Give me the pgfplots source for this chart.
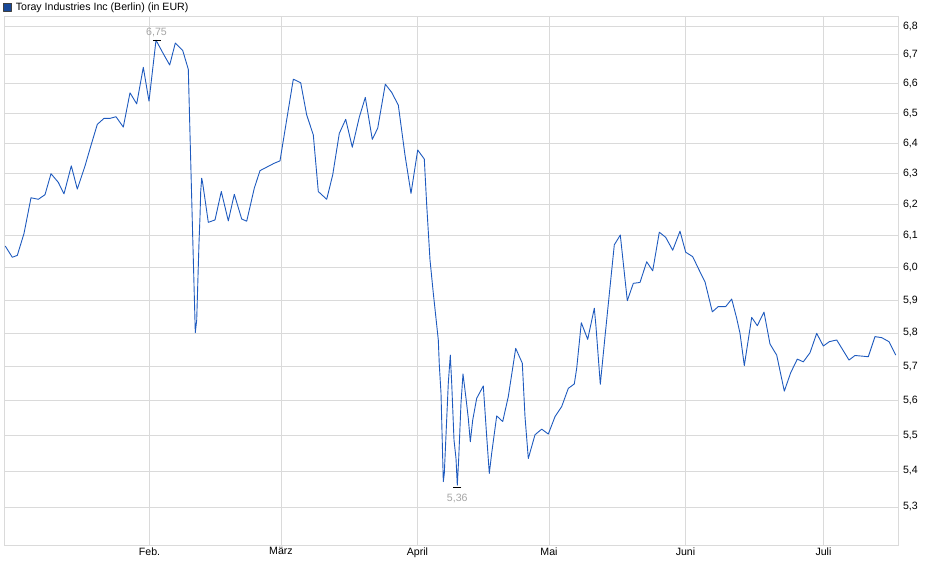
\documentclass[border=0pt]{standalone}
\usepackage{pgfplots}
\pgfplotsset{compat=1.18}
\usepackage{fontspec}
\setmainfont{Liberation Sans}
\definecolor{kurs}{RGB}{30,90,190}
\definecolor{gitter}{RGB}{218,218,218}
\definecolor{marke}{RGB}{165,165,165}
\newcommand{\lab}{\fontsize{10.6}{12}\selectfont}
\begin{document}
\begin{tikzpicture}
\path[use as bounding box] (0pt,0pt) rectangle (940pt,579pt);
\begin{axis}[
  at={(4pt,34pt)}, anchor=south west,
  scale only axis, width=894.5pt, height=529pt,
  xmin=4, xmax=898.5,
  ymode=log, ymin=5.1967, ymax=6.8353,
  axis line style={draw=gitter, line width=0.8pt},
  grid=major, major grid style={draw=gitter, line width=0.8pt},
  tick style={draw=none},
  xtick={149.5,281,417.5,549,685.5,823.5},
  xticklabels={Feb., März, April, Mai, Juni, Juli},
  xticklabel style={font=\lab, yshift=1pt},
  ytick={5.3,5.4,5.5,5.6,5.7,5.8,5.9,6.0,6.1,6.2,6.3,6.4,6.5,6.6,6.7,6.8},
  yticklabels={{5,3},{5,4},{5,5},{5,6},{5,7},{5,8},{5,9},{6,0},{6,1},{6,2},{6,3},{6,4},{6,5},{6,6},{6,7},{6,8}},
  yticklabel pos=right,
  yticklabel style={font=\lab, anchor=west, xshift=1pt},
  legend style={at={(axis description cs:-0.0011,1.0251)}, anchor=north west,
    draw=none, fill=none, inner sep=0pt, font=\lab,
    nodes={inner sep=0pt},
    /tikz/every odd column/.append style={column sep=4pt}},
  legend image code/.code={\draw[fill=kurs!80!black, draw=black!75, line width=0.6pt] (0pt,-4pt) rectangle (8pt,4pt);},
]
\addplot[kurs, line width=0.9pt, line join=round] coordinates {
(5.3,6.067) (12.3,6.032) (17.3,6.038) (24,6.107) (31,6.221) (38.3,6.216) (45,6.231) (51,6.299)
(58.3,6.271) (64,6.234) (71.3,6.325) (77.3,6.249) (85,6.324) (91,6.392) (97.3,6.462) (104,6.482)
(110,6.482) (116,6.488) (123.3,6.453) (130,6.569) (136.7,6.531) (143.3,6.656) (149,6.540) (156,6.750)
(163,6.705) (169.7,6.664) (175.3,6.740) (182.7,6.714) (188.3,6.649) (192.7,6.097) (195.3,5.801) (196.7,5.839)
(199,6.078) (200,6.160) (200.7,6.241) (201.7,6.284) (202.7,6.268) (208.3,6.142) (215,6.150) (221.3,6.241)
(228.3,6.147) (234.3,6.232) (241.7,6.153) (246.7,6.146) (254.3,6.252) (260,6.309) (274,6.333) (280,6.341)
(293.3,6.615) (300.7,6.603) (306.7,6.494) (313.3,6.427) (318.3,6.241) (326.7,6.216) (332.7,6.295) (339.3,6.432)
(345.7,6.479) (352.3,6.386) (359.3,6.486) (365.3,6.553) (372.3,6.412) (377.7,6.449) (385.3,6.598) (391.7,6.570)
(398.3,6.527) (405,6.360) (411,6.235) (417.7,6.377) (424.3,6.347) (426.7,6.198) (430,6.024) (433.3,5.921)
(438.3,5.779) (439.3,5.705) (441,5.622) (443.3,5.370) (444.3,5.393) (448.3,5.651) (450.3,5.734) (451.7,5.651)
(454,5.487) (456,5.435) (457.3,5.360) (458.7,5.435) (461,5.593) (463,5.678) (466,5.607) (468.3,5.549)
(470.3,5.482) (472.7,5.544) (476.7,5.607) (483.3,5.643) (486.7,5.497) (489.3,5.393) (491.7,5.450) (496.7,5.556)
(502.7,5.540) (508.3,5.612) (515.7,5.754) (522.3,5.710) (525,5.554) (528.3,5.435) (535,5.502) (541.7,5.518)
(548.3,5.504) (555,5.554) (561.7,5.583) (568.3,5.636) (574.3,5.649) (576.7,5.695) (581.3,5.831) (587.7,5.781)
(594.3,5.875) (596,5.819) (600.3,5.648) (605,5.789) (608.7,5.900) (614.3,6.071) (620.3,6.102) (627.3,5.898)
(633.3,5.951) (640,5.954) (646.7,6.018) (652.7,5.990) (659.3,6.111) (665.7,6.095) (672.7,6.054) (680,6.114)
(685.7,6.048) (692.7,6.034) (699,5.993) (705,5.956) (712.3,5.864) (718.3,5.880) (725.7,5.880) (731.7,5.903)
(736.7,5.844) (740,5.799) (744.3,5.703) (751.7,5.847) (757.3,5.822) (764,5.863) (770,5.767) (776.7,5.734)
(784.3,5.628) (790.7,5.682) (797.3,5.722) (803.3,5.714) (810,5.741) (816.7,5.799) (823.3,5.761) (829.3,5.774)
(836.7,5.779) (849,5.719) (855,5.733) (868.3,5.729) (875,5.789) (881.7,5.786) (889,5.774) (895.7,5.734)
};
\addlegendentry{Toray Industries Inc (Berlin) (in EUR)}
% Hoch und Tief
\addplot[black, only marks, mark=-, mark size=4pt, mark options={line width=0.8pt},
  nodes near coords={6{,}75},
  every node near coord/.style={text=marke, font=\lab, anchor=south, inner sep=1pt, yshift=2pt},
  forget plot] coordinates {(156.5,6.75)};
\addplot[black, only marks, mark=-, mark size=4pt, mark options={line width=0.8pt},
  nodes near coords={5{,}36},
  every node near coord/.style={text=marke, font=\lab, anchor=north, inner sep=1pt, yshift=-5pt},
  forget plot] coordinates {(457.3,5.353)};
\end{axis}
\end{tikzpicture}
\end{document}
